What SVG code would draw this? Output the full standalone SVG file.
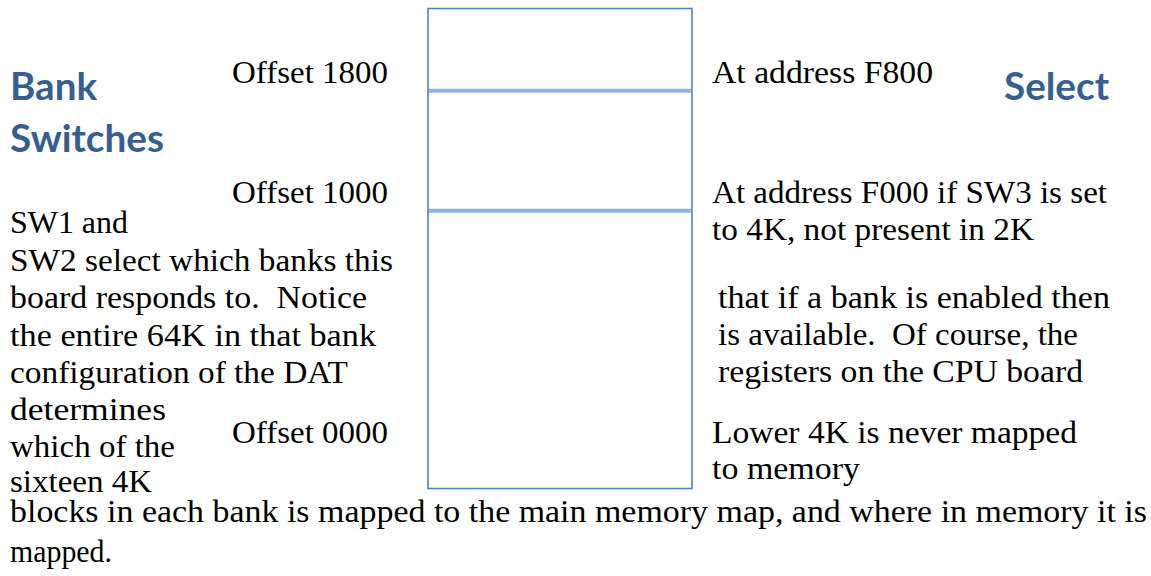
<svg xmlns="http://www.w3.org/2000/svg" width="1151" height="576" viewBox="0 0 1151 576">
  <style>
    .body { font-family: "Liberation Serif", "DejaVu Serif", serif; font-size: 31px; fill: #000000; white-space: pre; }
    .head { font-family: Lato, "Open Sans", "Liberation Sans", sans-serif; font-weight: 700; font-size: 38px; fill: #365F91; }
    .frame { fill: #FFFFFF; stroke: #4F81BD; stroke-width: 1.6; }
    .divider { stroke: #8DB3E2; stroke-width: 4; }
  </style>
  <rect width="1151" height="576" fill="#FFFFFF"/>

  <!-- memory map block with the two region boundaries -->
  <g id="memory-map">
    <rect class="frame" x="428" y="8.5" width="264" height="480"/>
    <line class="divider" x1="429" y1="90.7" x2="691" y2="90.7"/>
    <line class="divider" x1="429" y1="210.7" x2="691" y2="210.7"/>
  </g>

  <!-- headings -->
  <g id="title-bank-switches">
    <text class="head" x="10" y="100" textLength="87" lengthAdjust="spacingAndGlyphs">Bank</text>
    <text class="head" x="10" y="152" textLength="154" lengthAdjust="spacingAndGlyphs">Switches</text>
  </g>
  <g id="title-select">
    <text class="head" x="1004" y="100" textLength="105" lengthAdjust="spacingAndGlyphs">Select</text>
  </g>

  <!-- offsets on the left of the block -->
  <g id="offset-labels">
    <text class="body" x="232" y="83" textLength="156" lengthAdjust="spacingAndGlyphs">Offset 1800</text>
    <text class="body" x="232" y="203" textLength="156" lengthAdjust="spacingAndGlyphs">Offset 1000</text>
    <text class="body" x="232" y="443" textLength="156" lengthAdjust="spacingAndGlyphs">Offset 0000</text>
  </g>

  <!-- addresses on the right of the block -->
  <g id="address-labels">
    <text class="body" x="712" y="83" textLength="221" lengthAdjust="spacingAndGlyphs">At address F800</text>
    <text class="body" x="712" y="203" textLength="395" lengthAdjust="spacingAndGlyphs">At address F000 if SW3 is set</text>
    <text class="body" x="712" y="240" textLength="322" lengthAdjust="spacingAndGlyphs">to 4K, not present in 2K</text>
    <text class="body" x="712" y="443" textLength="365" lengthAdjust="spacingAndGlyphs">Lower 4K is never mapped</text>
    <text class="body" x="712" y="479" textLength="148" lengthAdjust="spacingAndGlyphs">to memory</text>
  </g>

  <!-- explanatory paragraph, left column -->
  <g id="note-left">
    <text class="body" x="10" y="233" textLength="118" lengthAdjust="spacingAndGlyphs">SW1 and</text>
    <text class="body" x="10" y="271" textLength="383" lengthAdjust="spacingAndGlyphs">SW2 select which banks this</text>
    <text class="body" x="10" y="308" textLength="357" lengthAdjust="spacingAndGlyphs">board responds to.  Notice</text>
    <text class="body" x="10" y="346" textLength="366" lengthAdjust="spacingAndGlyphs">the entire 64K in that bank</text>
    <text class="body" x="10" y="383" textLength="338" lengthAdjust="spacingAndGlyphs">configuration of the DAT</text>
    <text class="body" x="10" y="420" textLength="156" lengthAdjust="spacingAndGlyphs">determines</text>
    <text class="body" x="10" y="457" textLength="165" lengthAdjust="spacingAndGlyphs">which of the</text>
    <text class="body" x="10" y="492" textLength="142" lengthAdjust="spacingAndGlyphs">sixteen 4K</text>
  </g>

  <!-- explanatory paragraph, right column -->
  <g id="note-right">
    <text class="body" x="718" y="308" textLength="392" lengthAdjust="spacingAndGlyphs">that if a bank is enabled then</text>
    <text class="body" x="718" y="345" textLength="360" lengthAdjust="spacingAndGlyphs">is available.  Of course, the</text>
    <text class="body" x="718" y="382" textLength="365" lengthAdjust="spacingAndGlyphs">registers on the CPU board</text>
  </g>

  <!-- explanatory paragraph, full-width tail -->
  <g id="note-bottom">
    <text class="body" x="10" y="522" textLength="1137" lengthAdjust="spacingAndGlyphs">blocks in each bank is mapped to the main memory map, and where in memory it is</text>
    <text class="body" x="10" y="562" textLength="102" lengthAdjust="spacingAndGlyphs">mapped.</text>
  </g>
</svg>
